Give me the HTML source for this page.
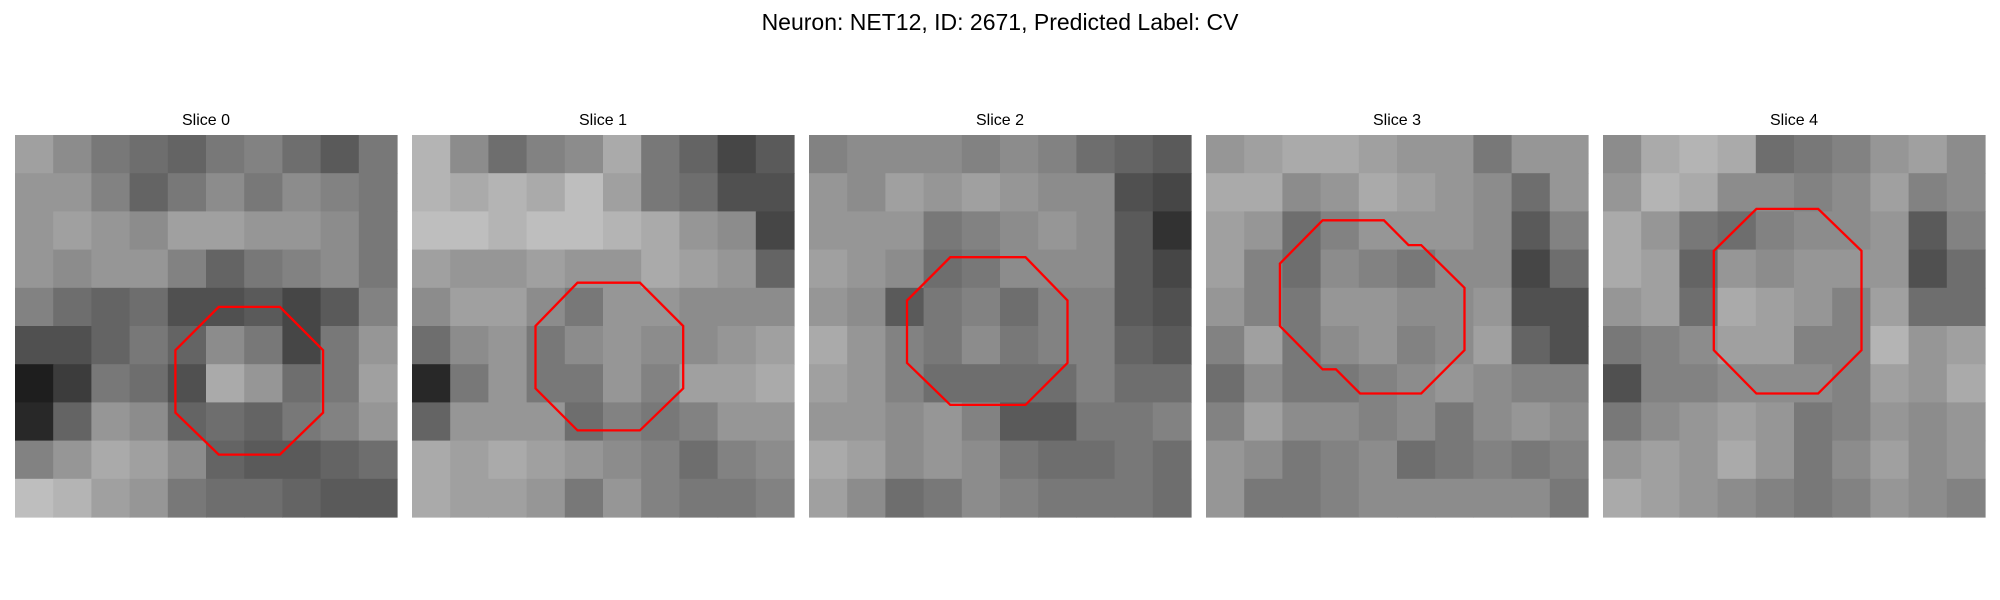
<!DOCTYPE html>
<html><head><meta charset="utf-8">
<style>
html,body{margin:0;padding:0;background:#fff;}
svg{display:block;}
</style></head>
<body>
<svg id="fig" width="2000" height="600" viewBox="0 0 2000 600" xmlns="http://www.w3.org/2000/svg">
<text x="1000" y="30" text-anchor="middle" font-family="Liberation Sans, DejaVu Sans, sans-serif" font-size="23" fill="#000">Neuron: NET12, ID: 2671, Predicted Label: CV</text>
</svg>
<script>
const sliceTitles = ["Slice 0","Slice 1","Slice 2","Slice 3","Slice 4"];
const slice0 = [
[160,140,120,110,100,120,130,110,90,120],
[150,150,130,100,120,140,120,140,130,120],
[150,160,150,140,160,160,150,150,140,120],
[150,140,150,150,130,100,120,130,140,120],
[130,110,100,110,80,80,90,70,90,130],
[80,80,100,120,100,140,120,70,120,150],
[30,60,120,110,80,170,150,110,120,160],
[40,100,150,140,100,110,100,120,130,150],
[130,150,170,160,140,100,90,90,100,110],
[190,180,160,150,120,110,110,100,90,90]];
const slice1 = [
[180,140,110,130,140,170,120,100,70,90],
[180,170,180,170,190,160,120,110,80,80],
[190,190,180,190,190,180,170,150,140,70],
[160,150,150,160,150,150,170,160,150,100],
[140,160,160,140,120,150,150,140,140,140],
[110,140,150,120,140,150,140,140,150,160],
[40,120,150,120,120,150,130,160,160,170],
[100,150,150,150,110,130,120,130,150,150],
[170,160,170,160,150,140,130,110,130,140],
[170,160,160,150,120,150,130,120,120,130]];
const slice2 = [
[130,140,140,140,130,140,130,110,100,90],
[150,140,160,150,160,150,140,140,80,70],
[150,150,150,120,130,140,150,140,90,50],
[160,150,140,110,120,140,140,140,90,70],
[150,140,90,120,130,110,130,130,90,80],
[170,150,130,120,140,120,130,130,100,90],
[160,150,130,110,110,110,110,130,110,110],
[150,150,140,150,130,90,90,120,120,130],
[170,160,140,150,140,120,110,110,120,110],
[160,140,110,120,140,130,120,120,120,110]];
const slice3 = [
[150,160,170,170,160,150,150,120,150,150],
[170,170,140,150,170,160,150,140,110,150],
[160,150,110,130,150,150,150,140,90,130],
[160,130,110,140,130,120,140,140,70,110],
[150,130,120,150,150,140,140,150,80,80],
[130,160,120,140,150,130,140,160,100,80],
[110,140,120,120,130,140,150,140,130,130],
[130,160,140,140,130,140,120,140,150,140],
[150,140,120,130,140,110,120,130,120,130],
[150,120,120,130,140,140,140,140,140,120]];
const slice4 = [
[140,170,180,170,110,120,130,150,160,140],
[150,180,170,140,140,130,140,160,130,140],
[170,150,120,110,130,140,140,150,90,130],
[170,160,100,150,140,150,150,150,80,110],
[150,160,110,170,160,150,130,160,110,110],
[120,130,140,160,160,130,130,180,150,160],
[80,130,130,140,140,140,130,160,150,170],
[120,140,150,160,150,120,130,150,140,150],
[150,160,150,170,150,120,140,160,140,150],
[170,160,150,140,130,120,130,150,140,130]];
// ROI outlines in image-pixel units (30x30 image)
const roi0 = [[16.0,13.5],[20.8,13.5],[24.2,16.9],[24.2,21.8],[20.8,25.1],[16.0,25.1],[12.6,21.8],[12.6,16.9]];
const roi1 = [[13.0,11.6],[17.9,11.6],[21.3,15.0],[21.3,19.9],[17.9,23.2],[13.0,23.2],[9.7,19.9],[9.7,15.0]];
const roi2 = [[11.1,9.6],[17.0,9.6],[20.3,13.0],[20.3,17.9],[17.0,21.2],[11.1,21.2],[7.7,17.9],[7.7,13.0]];
const roi3 = [[9.16,6.7],[13.97,6.7],[15.9,8.65],[16.9,8.65],[20.3,12.0],[20.3,16.9],[16.9,20.3],[12.1,20.3],[10.2,18.4],[9.16,18.4],[5.8,15.0],[5.8,10.1]];
const roi4 = [[12.05,5.8],[16.9,5.8],[20.3,9.1],[20.3,16.9],[16.9,20.3],[12.05,20.3],[8.7,16.9],[8.7,9.1]];

const slices = [slice0,slice1,slice2,slice3,slice4];
const rois = [roi0,roi1,roi2,roi3,roi4];
const NS = "http://www.w3.org/2000/svg";
const svg = document.getElementById('fig');
const panelX0 = 15, panelStep = 397, panelY0 = 135, panelSize = 382, imgUnits = 30;

slices.forEach((grid, p) => {
  const g = document.createElementNS(NS,'g');
  
  
  const ox = panelX0 + p * panelStep;
  const rows = grid.length, cols = grid[0].length;
  const cw = panelSize / cols, ch = panelSize / rows;
  const sx = u => ox + u * panelSize / imgUnits;
  const sy = u => panelY0 + u * panelSize / imgUnits;
  grid.forEach((row, r) => row.forEach((v, c) => {
    const rect = document.createElementNS(NS,'rect');
    
    
    rect.setAttribute('x', (ox + c * cw).toFixed(2));
    rect.setAttribute('y', (panelY0 + r * ch).toFixed(2));
    rect.setAttribute('width', (cw + 0.6).toFixed(2));
    rect.setAttribute('height', (ch + 0.6).toFixed(2));
    rect.setAttribute('fill', `rgb(${v},${v},${v})`);
    g.appendChild(rect);
  }));
  const poly = document.createElementNS(NS,'polygon');
  
  
  poly.setAttribute('points', rois[p].map(([x,y]) => sx(x).toFixed(1) + ',' + sy(y).toFixed(1)).join(' '));
  poly.setAttribute('fill', 'none');
  poly.setAttribute('stroke', '#ff0000');
  poly.setAttribute('stroke-width', '2.3');
  g.appendChild(poly);
  const t = document.createElementNS(NS,'text');
  
  
  t.setAttribute('x', ox + panelSize / 2);
  t.setAttribute('y', 125);
  t.setAttribute('text-anchor', 'middle');
  t.setAttribute('font-family', 'Liberation Sans, DejaVu Sans, sans-serif');
  t.setAttribute('font-size', '16');
  t.textContent = sliceTitles[p];
  g.appendChild(t);
  svg.appendChild(g);
});
</script>
</body></html>
